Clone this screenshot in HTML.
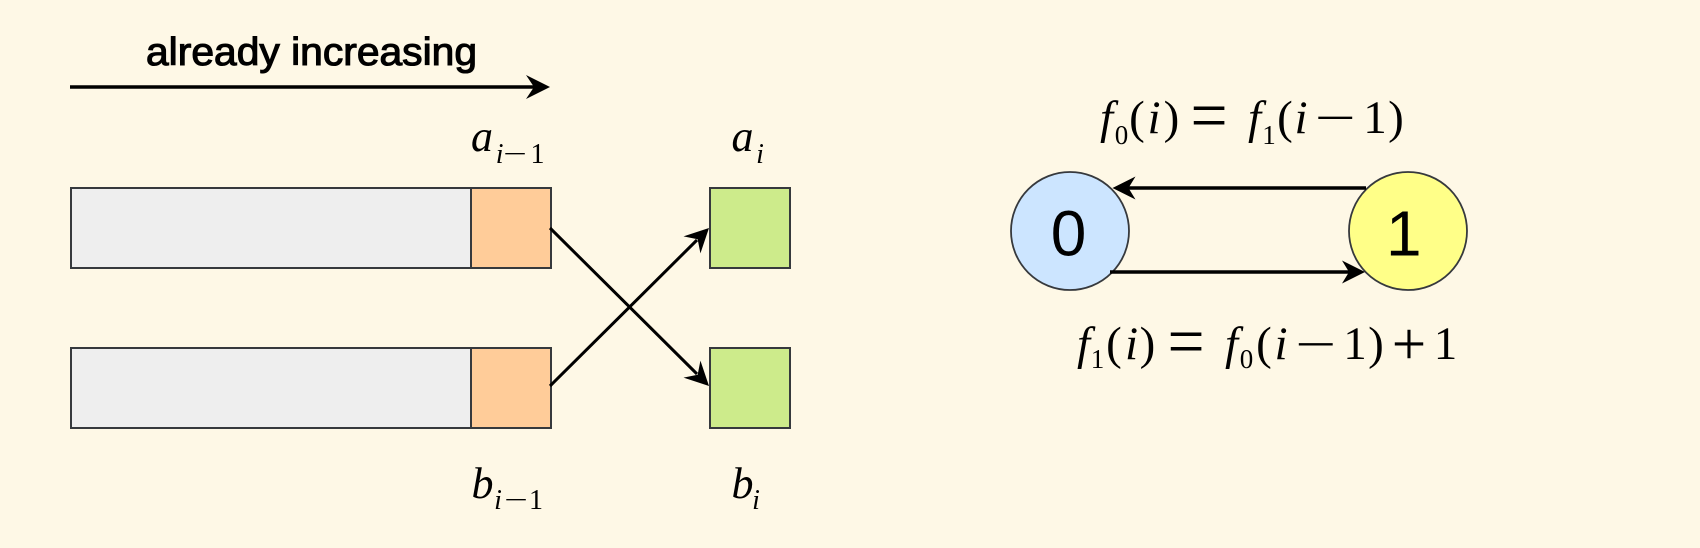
<!DOCTYPE html>
<html>
<head>
<meta charset="utf-8">
<style>
  html,body{margin:0;padding:0;background:#fef8e6;}
  svg{display:block;}
</style>
</head>
<body>
<svg width="1700" height="548" viewBox="0 0 1700 548" xmlns="http://www.w3.org/2000/svg">
  <rect x="0" y="0" width="1700" height="548" fill="#fef8e6"/>

  <!-- already increasing -->
  <text x="146" y="65" font-family="Liberation Sans, sans-serif" font-size="39" textLength="331" lengthAdjust="spacingAndGlyphs" fill="#000" stroke="#000" stroke-width="1.1">already increasing</text>
  <line x1="70" y1="87" x2="536" y2="87" stroke="#000" stroke-width="3.5"/>
  <path d="M0,0 L-24,-12 L-16,0 L-24,12 Z" transform="translate(550,87)" fill="#000"/>

  <!-- left bars -->
  <g stroke="#36393d" stroke-width="2">
    <rect x="71" y="188" width="400" height="80" fill="#eeeeee"/>
    <rect x="471" y="188" width="80" height="80" fill="#ffcc99"/>
    <rect x="71" y="348" width="400" height="80" fill="#eeeeee"/>
    <rect x="471" y="348" width="80" height="80" fill="#ffcc99"/>
    <rect x="710" y="188" width="80" height="80" fill="#cdeb8b"/>
    <rect x="710" y="348" width="80" height="80" fill="#cdeb8b"/>
  </g>

  <!-- cross arrows -->
  <line x1="550" y1="228" x2="697" y2="374" stroke="#000" stroke-width="3"/>
  <path d="M0,0 L-24,-12 L-16,0 L-24,12 Z" transform="translate(709,386) rotate(44.8)" fill="#000"/>
  <line x1="550" y1="386" x2="697" y2="240" stroke="#000" stroke-width="3"/>
  <path d="M0,0 L-24,-12 L-16,0 L-24,12 Z" transform="translate(709,228) rotate(-44.8)" fill="#000"/>

  <!-- left labels -->
  <g font-family="Liberation Serif, serif" text-anchor="middle" fill="#000">
    <text x="482" y="151" font-size="44" font-style="italic">a</text>
    <text x="499.7" y="163" font-size="28" font-style="italic">i</text>
    <text transform="translate(515,163) scale(1.5,1)" x="0" y="0" font-size="28">−</text>
    <text x="537.5" y="163" font-size="28">1</text>

    <text x="742.5" y="151" font-size="44" font-style="italic">a</text>
    <text x="760" y="163" font-size="28" font-style="italic">i</text>

    <text x="482.5" y="498" font-size="44" font-style="italic">b</text>
    <text x="498" y="509" font-size="28" font-style="italic">i</text>
    <text transform="translate(516,509) scale(1.5,1)" x="0" y="0" font-size="28">−</text>
    <text x="536" y="509" font-size="28">1</text>

    <text x="742.5" y="498" font-size="44" font-style="italic">b</text>
    <text x="756" y="509" font-size="28" font-style="italic">i</text>
  </g>

  <!-- state circles -->
  <circle cx="1070" cy="231" r="59" fill="#cce5ff" stroke="#36393d" stroke-width="1.8"/>
  <circle cx="1408" cy="231" r="59" fill="#ffff88" stroke="#36393d" stroke-width="1.8"/>
  <text x="1068.5" y="255.5" font-family="Liberation Sans, sans-serif" font-size="64" text-anchor="middle" fill="#000">0</text>
  <text x="1386" y="255.5" font-family="Liberation Sans, sans-serif" font-size="64" fill="#000">1</text>

  <!-- circle arrows -->
  <line x1="1366" y1="188" x2="1127" y2="188" stroke="#000" stroke-width="3.5"/>
  <path d="M0,0 L-23,-11.5 L-16,0 L-23,11.5 Z" transform="translate(1112.5,188) rotate(180)" fill="#000"/>
  <line x1="1110" y1="272" x2="1350" y2="272" stroke="#000" stroke-width="3.5"/>
  <path d="M0,0 L-23,-11.5 L-16,0 L-23,11.5 Z" transform="translate(1365,272)" fill="#000"/>

  <!-- top formula: f0(i) = f1(i-1) -->
  <g font-family="Liberation Serif, serif" text-anchor="middle" fill="#000">
    <text x="1106.5" y="133" font-size="47" font-style="italic">f</text>
    <text x="1121.5" y="144" font-size="27">0</text>
    <text x="1137" y="133" font-size="47">(</text>
    <text x="1154" y="133" font-size="47" font-style="italic">i</text>
    <text x="1171.5" y="133" font-size="47">)</text>
    <text transform="translate(1209,121) scale(1.4,1.5)" x="0" y="12" font-size="47">=</text>
    <text x="1254.5" y="133" font-size="47" font-style="italic">f</text>
    <text x="1269" y="144" font-size="27">1</text>
    <text x="1285" y="133" font-size="47">(</text>
    <text x="1301" y="133" font-size="47" font-style="italic">i</text>
    <text transform="translate(1335,121.5) scale(1.55,1)" x="0" y="12" font-size="47">−</text>
    <text x="1375" y="133" font-size="47">1</text>
    <text x="1396" y="133" font-size="47">)</text>
  </g>

  <!-- bottom formula: f1(i) = f0(i-1)+1 -->
  <g font-family="Liberation Serif, serif" text-anchor="middle" fill="#000">
    <text x="1083.5" y="359" font-size="47" font-style="italic">f</text>
    <text x="1097.5" y="368" font-size="27">1</text>
    <text x="1114" y="359" font-size="47">(</text>
    <text x="1131.5" y="359" font-size="47" font-style="italic">i</text>
    <text x="1147.5" y="359" font-size="47">)</text>
    <text transform="translate(1186,347) scale(1.4,1.5)" x="0" y="12" font-size="47">=</text>
    <text x="1231.5" y="359" font-size="47" font-style="italic">f</text>
    <text x="1246.5" y="368" font-size="27">0</text>
    <text x="1264" y="359" font-size="47">(</text>
    <text x="1281" y="359" font-size="47" font-style="italic">i</text>
    <text transform="translate(1315.5,348) scale(1.55,1)" x="0" y="12" font-size="47">−</text>
    <text x="1355" y="359" font-size="47">1</text>
    <text x="1376" y="359" font-size="47">)</text>
    <text transform="translate(1409,349) scale(1.3,1.3)" x="0" y="12" font-size="47">+</text>
    <text x="1445.5" y="359" font-size="47">1</text>
  </g>
</svg>
</body>
</html>
